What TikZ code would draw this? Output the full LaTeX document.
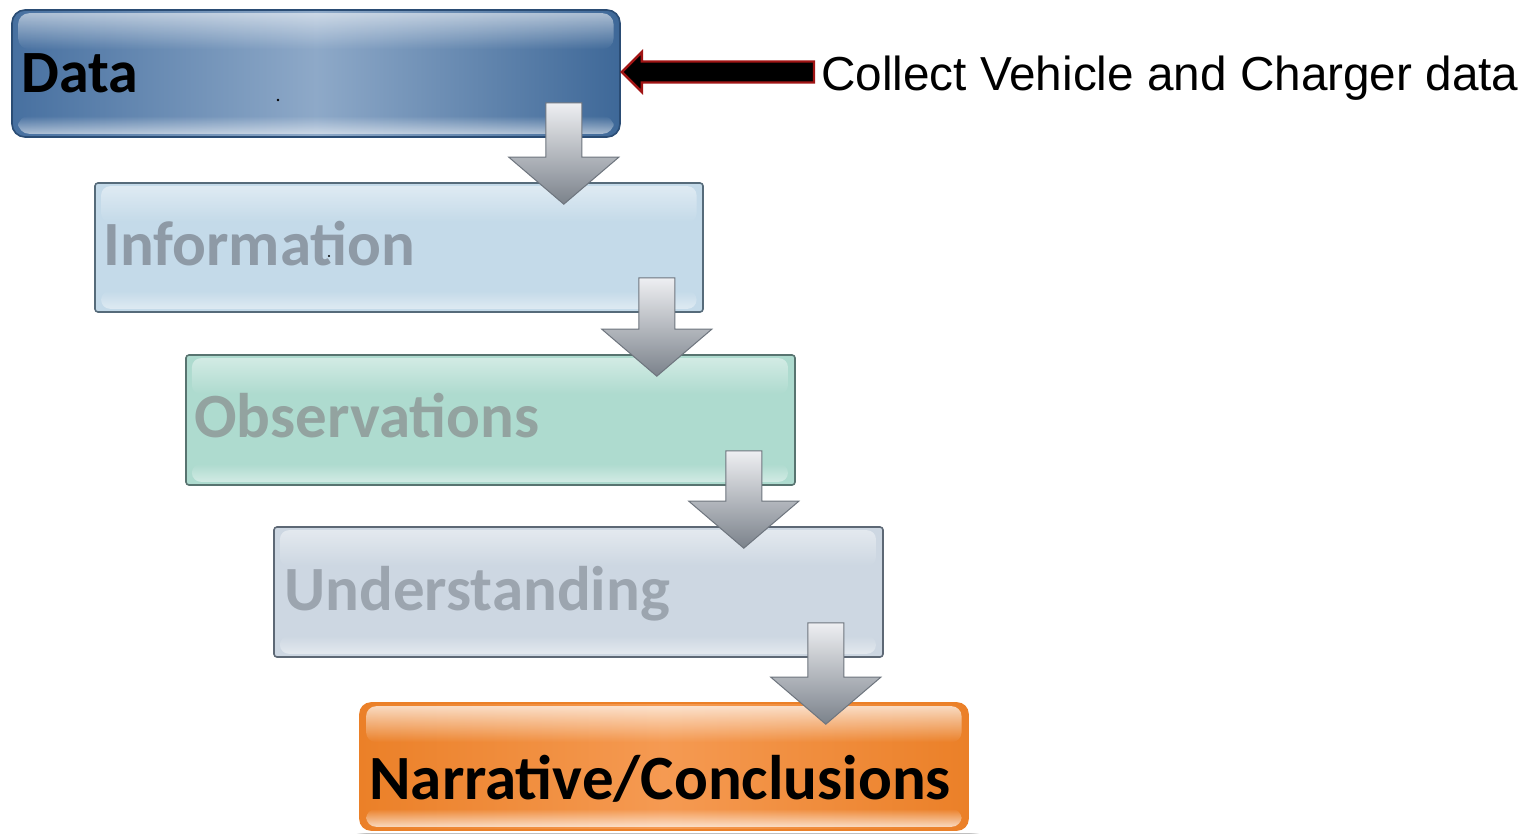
\documentclass[tikz,border=0pt]{standalone}
\usepackage{fontspec}
\setmainfont{Carlito}
\newfontfamily\notefont{Liberation Sans}
\usetikzlibrary{calc,fadings}

\definecolor{dataedge}{HTML}{2A4C74}
\definecolor{dataleft}{HTML}{4770A0}
\definecolor{datamid}{HTML}{8EA9C8}
\definecolor{dataright}{HTML}{3E6898}
\definecolor{infofill}{HTML}{C4DAE9}
\definecolor{infoedge}{HTML}{566B7A}
\definecolor{infotext}{HTML}{8E9AA6}
\definecolor{obsfill}{HTML}{AEDBCF}
\definecolor{obsedge}{HTML}{587470}
\definecolor{obstext}{HTML}{93A3A0}
\definecolor{undfill}{HTML}{CDD7E2}
\definecolor{undedge}{HTML}{5D6875}
\definecolor{undtext}{HTML}{9CA5AF}
\definecolor{narfill}{HTML}{F59A52}
\definecolor{naredge}{HTML}{EB8028}
\definecolor{arrowtop}{HTML}{EEEFF2}
\definecolor{arrowbot}{HTML}{7B828B}
\definecolor{arrowedge}{HTML}{6E757E}
\definecolor{noteedge}{HTML}{A01414}

\pgfdeclarelayer{shadowlayer}
\pgfsetlayers{shadowlayer,main}

% soft shadow under a stage box
\newcommand\boxshadow[2]{%
  \begin{pgfonlayer}{shadowlayer}
    \foreach \k in {0,...,7}
      \fill[black, opacity=0.035, rounded corners=#2]
        ($(#1.north west)+(4-\k*0.9,7-\k*0.9)$) rectangle
        ($(#1.south east)+(4+\k*0.9,7+\k*0.9)$);
  \end{pgfonlayer}}

% glossy highlights at the top and bottom of a stage box
\newcommand\boxgloss[3]{%
  \fill[white, opacity=#3, path fading=south, rounded corners=#2]
    ($(#1.north west)+(7,4)$) rectangle ($(#1.north east)+(-7,40)$);
  \fill[white, opacity=#3, path fading=north, rounded corners=#2]
    ($(#1.south west)+(7,-22)$) rectangle ($(#1.south east)+(-7,-4)$);}

% block arrow from one stage to the next; #3 shifts its axis from the upper box's east side
\newcommand\stagearrow[3]{%
  \draw[flowarrow] let \p1=(#1.south east), \p2=(#2.north) in
    (\x1#3-18pt,\y1+35pt) -- (\x1#3+18pt,\y1+35pt) --
    (\x1#3+18pt,\y2+25pt) -- (\x1#3+55pt,\y2+25pt) --
    (\x1#3,\y2-22pt) --
    (\x1#3-55pt,\y2+25pt) -- (\x1#3-18pt,\y2+25pt) -- cycle;}

\begin{document}
\begin{tikzpicture}[x=1pt,y=-1pt,
  stagebox/.style={inner sep=0pt, line width=1.6pt},
  stagetext/.style={inner sep=0pt, anchor=base west,
    font=\fontsize{63}{70}\selectfont\bfseries},
  flowarrow/.style={top color=arrowtop, bottom color=arrowbot,
    draw=arrowedge, line width=1pt, line join=miter},
  notearrow/.style={fill=black, draw=noteedge, line width=2.4pt, line join=miter},
  notetext/.style={inner sep=0pt, anchor=base west,
    font=\notefont\fontsize{47.7}{55}\selectfont}]

\useasboundingbox (0,0) rectangle (1526,833);
\fill[white] (0,0) rectangle (1526,833);

% stage boxes
\node[stagebox, draw=dataedge, left color=dataleft, right color=dataright,
  middle color=datamid, rounded corners=13pt,
  minimum width=608pt, minimum height=127pt] (data) at (316,73.5) {};
\boxshadow{data}{13pt}
\boxgloss{data}{11pt}{0.55}

\node[stagebox, draw=infoedge, fill=infofill, rounded corners=3pt,
  minimum width=608pt, minimum height=129pt] (info) at (399,247.5) {};
\boxshadow{info}{3pt}
\boxgloss{info}{9pt}{0.45}

\node[stagebox, draw=obsedge, fill=obsfill, rounded corners=3pt,
  minimum width=609pt, minimum height=130pt] (obs) at (490.5,420) {};
\boxshadow{obs}{3pt}
\boxgloss{obs}{9pt}{0.45}

\node[stagebox, draw=undedge, fill=undfill, rounded corners=3pt,
  minimum width=609pt, minimum height=130pt] (und) at (578.5,592) {};
\boxshadow{und}{3pt}
\boxgloss{und}{9pt}{0.45}

\node[stagebox, draw=naredge, left color=naredge, right color=naredge,
  middle color=narfill, rounded corners=11pt,
  minimum width=608pt, minimum height=127pt] (nar) at (664,766.5) {};
\boxshadow{nar}{11pt}
\boxgloss{nar}{10pt}{0.7}

% stage labels
\node[stagetext, text=black, font=\fontsize{60}{66}\selectfont\bfseries]
  (tdata) at ($(data.west)+(10,19)$) {Data};
\node[stagetext, text=infotext] (tinfo) at ($(info.west)+(9,17.5)$) {Information};
\node[stagetext, text=obstext] (tobs) at ($(obs.west)+(9,17)$) {Observations};
\node[stagetext, text=undtext] (tund) at ($(und.west)+(11,18)$) {Understanding};
\node[stagetext, text=black] (tnar) at ($(nar.west)+(10,33)$) {Narrative/Conclusions};

% small dots inside the first two boxes
\fill[black] (278,100) circle (1.4);
\fill[black] (329,256) circle (1.2);

% arrows between the stages
\stagearrow{data}{info}{-57pt}
\stagearrow{info}{obs}{-47pt}
\stagearrow{obs}{und}{-52pt}
\stagearrow{und}{nar}{-58pt}

% note on the first stage
\node[notetext] (note) at (821,90) {Collect Vehicle and Charger data};
\draw[notearrow] let \p1=(data.east), \p2=(note.west) in
  (\x1+1pt,\y1+1.5pt) -- (\x1+21pt,\y1+21.5pt) -- (\x1+21pt,\y1+12pt) --
  (\x2-7pt,\y1+12pt) -- (\x2-7pt,\y1-9pt) -- (\x1+21pt,\y1-9pt) --
  (\x1+21pt,\y1-18.5pt) -- cycle;
\end{tikzpicture}
\end{document}
